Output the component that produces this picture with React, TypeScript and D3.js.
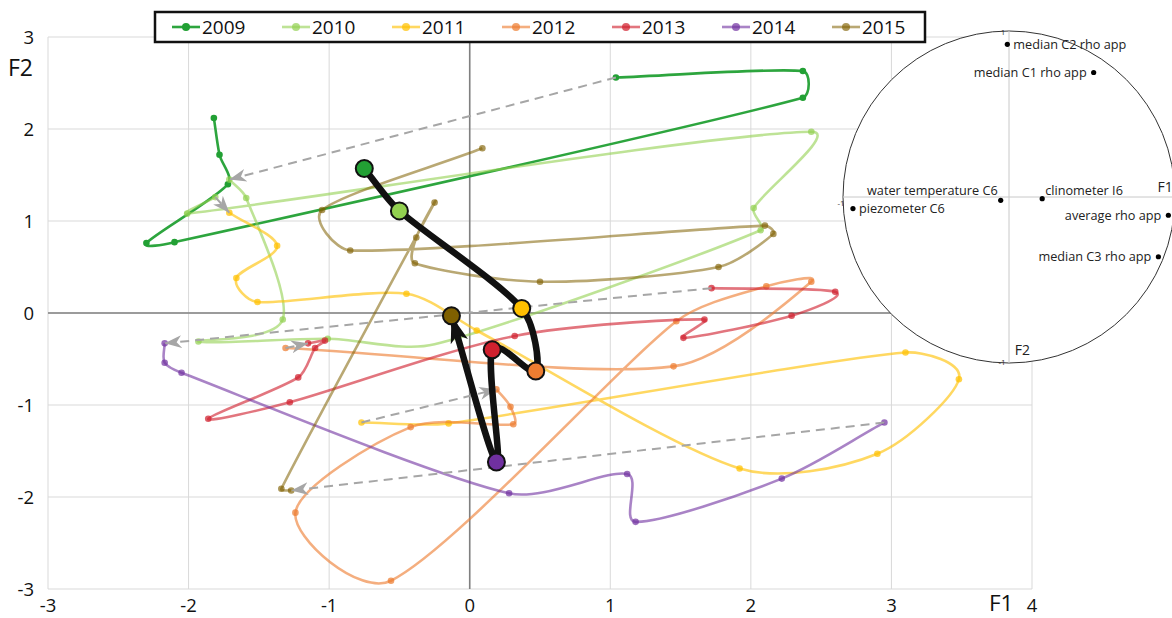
import React from 'react';
import * as d3 from 'd3';

const W = 1172;
const H = 618;

const years = ['2009', '2010', '2011', '2012', '2013', '2014', '2015'];
const baseColors = ['#22A034', '#92D050', '#FFC000', '#ED7D31', '#D0202E', '#7030A0', '#7F6000'];
const lineOpacity = [0.95, 0.6, 0.62, 0.62, 0.62, 0.6, 0.55];

// F1 / F2 scores, in chronological order within each year
const s2009: [number, number][] = [
  [-1.82, 2.12], [-1.78, 1.72], [-1.72, 1.4], [-2.3, 0.76], [-2.1, 0.77], [2.37, 2.34], [2.37, 2.63], [1.04, 2.56],
];
const s2010: [number, number][] = [
  [-1.71, 1.45], [-1.59, 1.25], [-1.33, -0.07], [-1.93, -0.31], [-1.01, -0.28], [-0.25, -0.34], [2.07, 0.9],
  [2.02, 1.14], [2.43, 1.97], [-2.01, 1.08], [-1.81, 1.26],
];
const s2011: [number, number][] = [
  [-1.71, 1.09], [-1.37, 0.73], [-1.66, 0.38], [-1.51, 0.12], [-0.45, 0.21], [0.05, -0.19], [1.92, -1.69],
  [2.9, -1.53], [3.48, -0.72], [3.1, -0.43], [-0.15, -1.2], [-0.77, -1.19],
];
const s2012: [number, number][] = [
  [0.19, -0.83], [0.29, -1.02], [0.31, -1.21], [-0.42, -1.24], [-1.24, -2.17], [-0.56, -2.91], [1.47, -0.09],
  [2.11, 0.29], [2.43, 0.34], [1.45, -0.58], [-1.31, -0.38],
];
const s2013: [number, number][] = [
  [-1.15, -0.33], [-1.03, -0.3], [-1.1, -0.38], [-1.22, -0.7], [-1.86, -1.15], [-1.28, -0.97], [0.32, -0.25],
  [1.67, -0.07], [1.52, -0.27], [2.29, -0.03], [2.6, 0.23], [1.72, 0.27],
];
const s2014: [number, number][] = [
  [-2.17, -0.33], [-2.17, -0.54], [-2.05, -0.65], [0.28, -1.96], [1.12, -1.75], [1.18, -2.27], [2.22, -1.8],
  [2.95, -1.19],
];
const s2015: [number, number][] = [
  [-1.27, -1.93], [-1.34, -1.91], [-0.25, 1.2], [-0.38, 0.82], [-0.39, 0.54], [0.5, 0.34], [1.77, 0.5],
  [2.16, 0.86], [2.1, 0.95], [-0.85, 0.68], [-1.05, 1.12], [0.09, 1.79],
];
const series = [s2009, s2010, s2011, s2012, s2013, s2014, s2015];
// sample indices drawn without a marker (hidden in the reference)
const unmarked: number[][] = [[], [5], [], [], [], [], []];

// yearly barycentres
const centroidF1 = [-0.75, -0.5, 0.37, 0.47, 0.16, 0.19, -0.13];
const centroidF2 = [1.57, 1.11, 0.05, -0.63, -0.4, -1.62, -0.03];

const xTicks = [-3, -2, -1, 0, 1, 2, 3, 4];
const yTicks = [-3, -2, -1, 0, 1, 2, 3];

// correlation circle
const corrVars = [
  'median C2 rho app', 'median C1 rho app', 'water temperature C6', 'clinometer I6',
  'piezometer C6', 'average rho app', 'median C3 rho app',
];
const corrF1 = [-0.01, 0.51, -0.05, 0.2, -0.94, 0.96, 0.9];
const corrF2 = [0.92, 0.75, -0.02, -0.01, -0.07, -0.11, -0.36];
const corrLabelSide = ['right', 'left', 'leftUp', 'rightUp', 'right', 'left', 'left'];

const FONT = "'Open Sans', 'DejaVu Sans', sans-serif";
const SEG_FRAC = 0.3;
const CHORD_FRAC = 1 / 6;

// Excel-like smoothed line: tangent along the neighbour chord,
// arm = min(chord/6, fraction of the segment length)
function smoothPath(pts: [number, number][]): string {
  const p = d3.path();
  const n = pts.length;
  if (n === 0) return '';
  const tan = pts.map((_, i) => {
    const a = pts[Math.max(0, i - 1)];
    const b = pts[Math.min(n - 1, i + 1)];
    const dx = b[0] - a[0];
    const dy = b[1] - a[1];
    const l = Math.hypot(dx, dy) || 1;
    return { ux: dx / l, uy: dy / l, chord: l };
  });
  p.moveTo(pts[0][0], pts[0][1]);
  for (let i = 0; i < n - 1; i++) {
    const a = pts[i];
    const b = pts[i + 1];
    const L = Math.hypot(b[0] - a[0], b[1] - a[1]);
    const ka = Math.min(tan[i].chord * CHORD_FRAC * (i === 0 ? 2 : 1), L * SEG_FRAC);
    const kb = Math.min(tan[i + 1].chord * CHORD_FRAC * (i + 1 === n - 1 ? 2 : 1), L * SEG_FRAC);
    p.bezierCurveTo(
      a[0] + tan[i].ux * ka, a[1] + tan[i].uy * ka,
      b[0] - tan[i + 1].ux * kb, b[1] - tan[i + 1].uy * kb,
      b[0], b[1]
    );
  }
  return p.toString();
}

export default function App() {
  const x = d3.scaleLinear().domain([-3, 4]).range([48, 1032]);
  const y = d3.scaleLinear().domain([-3, 3]).range([589, 37]);
  const toPx = (s: [number, number][]) => s.map((d) => [x(d[0]), y(d[1])] as [number, number]);

  const centroids: [number, number][] = centroidF1.map((v, i) => [v, centroidF2[i]]);

  const transitions = series.slice(0, -1).map((s, i) => ({ a: s[s.length - 1], b: series[i + 1][0] }));

  const cx = d3.scaleLinear().domain([-1, 1]).range([843, 1175]);
  const cy = d3.scaleLinear().domain([-1, 1]).range([363, 31]);
  const r = (cx(1) - cx(-1)) / 2;

  const legendX0 = 172;
  const legendStep = 110;

  return (
    <svg width={W} height={H} style={{ position: 'absolute', left: 0, top: 0, background: '#fff' }}>
      <defs>
        <marker id="grayArrow" markerUnits="userSpaceOnUse" viewBox="0 0 18 16" markerWidth={18} markerHeight={16}
          refX={17} refY={8} orient="auto">
          <path d="M17,8 L0,1.5 L5,8 L0,14.5 Z" fill="#A6A6A6" />
        </marker>
        <marker id="blackArrow" markerUnits="userSpaceOnUse" viewBox="0 0 28 22" markerWidth={28} markerHeight={22}
          refX={27} refY={11} orient="auto">
          <path d="M27,11 L0,2 L7,11 L0,20 Z" fill="#111" />
        </marker>
      </defs>

      {/* gridlines */}
      {xTicks.map((t) => (
        <line key={'gx' + t} x1={x(t)} x2={x(t)} y1={y(3)} y2={y(-3)} stroke="#D9D9D9" strokeWidth={1} />
      ))}
      {yTicks.map((t) => (
        <line key={'gy' + t} x1={x(-3)} x2={x(4)} y1={y(t)} y2={y(t)} stroke="#D9D9D9" strokeWidth={1} />
      ))}
      {/* axes */}
      <line x1={x(0)} x2={x(0)} y1={y(3)} y2={y(-3)} stroke="#808080" strokeWidth={1.6} />
      <line x1={x(-3)} x2={x(4)} y1={y(0)} y2={y(0)} stroke="#808080" strokeWidth={1.6} />

      {/* tick labels */}
      {xTicks.map((t) => (
        <text key={'tx' + t} x={x(t)} y={612} textAnchor="middle" fontFamily={FONT} fontSize={18.5} fill="#111">
          {t}
        </text>
      ))}
      {yTicks.map((t) => (
        <text key={'ty' + t} x={34} y={y(t) + 7} textAnchor="end" fontFamily={FONT} fontSize={18.5} fill="#111">
          {t}
        </text>
      ))}
      <text x={989} y={611} fontFamily={FONT} fontSize={22.5} fill="#111">F1</text>
      <text x={8} y={76} fontFamily={FONT} fontSize={23} fill="#111">F2</text>

      {/* yearly trajectories */}
      {series.map((s, i) => (
        <g key={'s' + i}>
          <path d={smoothPath(toPx(s))} fill="none" stroke={baseColors[i]} strokeOpacity={lineOpacity[i]} strokeWidth={2.6} />
          {s.map((pt, j) =>
            unmarked[i].includes(j) ? null : (
              <circle key={j} cx={x(pt[0])} cy={y(pt[1])} r={3.3} fill={baseColors[i]}
                fillOpacity={Math.min(1, lineOpacity[i] + 0.1)} />
            )
          )}
        </g>
      ))}

      {/* year-to-year dashed arrows */}
      {transitions.map((t, i) => (
        <line key={'tr' + i} x1={x(t.a[0])} y1={y(t.a[1])} x2={x(t.b[0])} y2={y(t.b[1])}
          stroke="#A6A6A6" strokeWidth={2} strokeDasharray="9 6" markerEnd="url(#grayArrow)" />
      ))}

      {/* centroid trajectory */}
      <path d={smoothPath(toPx(centroids))} fill="none" stroke="#111" strokeWidth={6.5} markerEnd="url(#blackArrow)" />
      {centroids.map((pt, i) => (
        <circle key={'c' + i} cx={x(pt[0])} cy={y(pt[1])} r={8.5} fill={baseColors[i]} stroke="#111" strokeWidth={2} />
      ))}

      {/* legend */}
      <rect x={155} y={12} width={770} height={30} fill="#fff" stroke="#111" strokeWidth={2.5} />
      {years.map((yr, i) => {
        const lx = legendX0 + i * legendStep;
        return (
          <g key={'lg' + yr}>
            <line x1={lx} x2={lx + 28} y1={27} y2={27} stroke={baseColors[i]} strokeOpacity={lineOpacity[i]} strokeWidth={2.6} />
            <circle cx={lx + 14} cy={27} r={4} fill={baseColors[i]} fillOpacity={Math.min(1, lineOpacity[i] + 0.1)} />
            <text x={lx + 30} y={34} fontFamily={FONT} fontSize={19} fill="#111">{yr}</text>
          </g>
        );
      })}

      {/* correlation circle */}
      <circle cx={cx(0)} cy={cy(0)} r={r} fill="#fff" stroke="#333" strokeWidth={1} />
      <line x1={cx(0)} x2={cx(0)} y1={cy(1)} y2={cy(-1)} stroke="#C8C8C8" strokeWidth={1} />
      <line x1={cx(-1)} x2={cx(1)} y1={cy(0)} y2={cy(0)} stroke="#C8C8C8" strokeWidth={1} />
      <text x={cx(0) - 6} y={cy(1) + 4} textAnchor="middle" fontFamily={FONT} fontSize={8} fill="#333">1</text>
      <text x={cx(-1) - 2} y={cy(0) + 9} textAnchor="middle" fontFamily={FONT} fontSize={8} fill="#333">-1</text>
      <text x={cx(0) - 7} y={cy(-1) + 2} textAnchor="middle" fontFamily={FONT} fontSize={8} fill="#333">-1</text>
      <text x={cx(0.895)} y={cy(0) - 5} fontFamily={FONT} fontSize={14} fill="#222">F1</text>
      <text x={cx(0.035)} y={cy(-0.95)} fontFamily={FONT} fontSize={14} fill="#222">F2</text>
      {corrVars.map((v, i) => {
        const px = cx(corrF1[i]);
        const py = cy(corrF2[i]);
        const side = corrLabelSide[i];
        let tx = px + 6;
        let ty = py + 4.5;
        let anchor: 'start' | 'end' = 'start';
        if (side === 'left') { tx = px - 7; anchor = 'end'; }
        if (side === 'leftUp') { tx = px - 3; ty = py - 5; anchor = 'end'; }
        if (side === 'rightUp') { tx = px + 3; ty = py - 4; }
        return (
          <g key={'cv' + i}>
            <circle cx={px} cy={py} r={2.6} fill="#000" />
            <text x={tx} y={ty} textAnchor={anchor} fontFamily={FONT} fontSize={12.7} fill="#222">{v}</text>
          </g>
        );
      })}
    </svg>
  );
}
